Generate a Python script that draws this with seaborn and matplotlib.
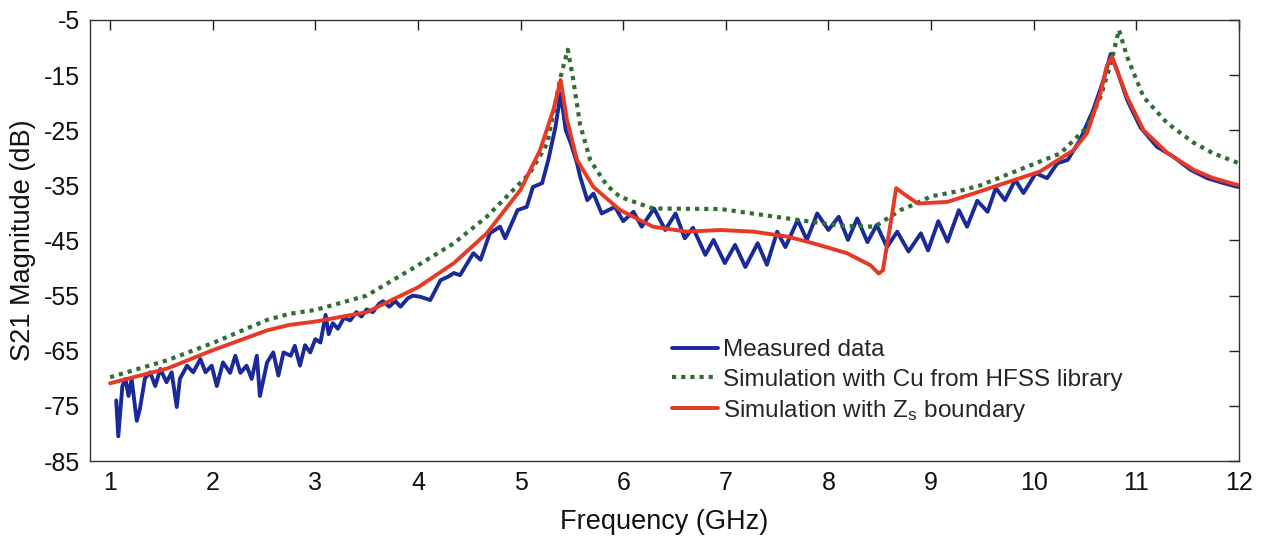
import numpy as np
import pandas as pd
import matplotlib
matplotlib.use("Agg")
import matplotlib.pyplot as plt
import seaborn as sns

# Measured data (blue)
meas_f = [1.06, 1.08, 1.12, 1.15, 1.18, 1.21, 1.26, 1.29, 1.34, 1.39, 1.44, 1.49, 1.55, 1.60,
          1.65, 1.68, 1.75, 1.81, 1.88, 1.93, 1.99, 2.04, 2.10, 2.17, 2.22, 2.27, 2.33, 2.38,
          2.43, 2.46, 2.53, 2.59, 2.64, 2.69, 2.76, 2.80, 2.85, 2.90, 2.95, 3.00, 3.05, 3.10,
          3.13, 3.17, 3.22, 3.28, 3.34, 3.40, 3.45, 3.50, 3.56, 3.62, 3.66, 3.72, 3.78, 3.83,
          3.90, 3.95, 4.02, 4.12, 4.22, 4.30, 4.35, 4.41, 4.54, 4.61, 4.70, 4.80, 4.85, 4.97,
          5.06, 5.12, 5.21, 5.27, 5.34, 5.39, 5.44, 5.49, 5.55, 5.58, 5.65, 5.71, 5.79, 5.92,
          6.00, 6.10, 6.18, 6.30, 6.41, 6.51, 6.60, 6.68, 6.80, 6.88, 6.99, 7.09, 7.19, 7.31,
          7.40, 7.50, 7.58, 7.70, 7.79, 7.89, 8.00, 8.10, 8.19, 8.28, 8.38, 8.47, 8.57, 8.67,
          8.78, 8.90, 8.97, 9.07, 9.16, 9.27, 9.35, 9.45, 9.55, 9.63, 9.72, 9.82, 9.90, 10.02,
          10.13, 10.23, 10.33, 10.45, 10.58, 10.68, 10.75, 10.81, 10.91, 11.04, 11.20, 11.36,
          11.53, 11.69, 11.85, 11.99]
meas_db = [-74.0, -80.5, -71.4, -70.1, -73.2, -70.1, -77.7, -75.6, -70.0, -68.9, -71.4, -68.3,
           -70.7, -68.9, -75.2, -70.1, -67.7, -68.9, -66.5, -68.9, -67.7, -71.4, -67.1, -69.0,
           -65.9, -69.0, -67.7, -70.1, -65.9, -73.2, -67.1, -65.3, -69.5, -65.3, -65.9, -64.1,
           -67.7, -64.0, -65.3, -62.9, -63.5, -58.5, -62.0, -60.0, -61.0, -59.0, -59.5, -58.0,
           -58.8, -57.5, -58.0, -56.5, -56.0, -57.0, -56.0, -57.0, -55.5, -55.0, -55.2, -55.8,
           -52.2, -51.5, -50.9, -51.3, -47.3, -48.5, -43.7, -42.5, -44.6, -39.5, -38.9, -35.3,
           -34.6, -30.4, -24.4, -18.3, -25.0, -27.4, -31.0, -33.4, -37.7, -36.5, -40.1, -38.9,
           -41.5, -39.8, -42.5, -39.2, -43.1, -40.1, -44.6, -42.7, -47.6, -44.9, -49.1, -45.8,
           -49.8, -45.5, -49.4, -43.4, -46.2, -41.3, -44.9, -40.1, -43.1, -40.7, -44.9, -41.0,
           -45.3, -42.2, -46.2, -43.4, -47.0, -43.7, -46.8, -41.5, -45.2, -39.5, -42.5, -37.8,
           -39.8, -35.5, -37.7, -34.0, -36.4, -32.8, -33.7, -31.0, -30.4, -26.8, -21.3, -15.9,
           -11.2, -14.0, -19.5, -24.5, -28.0, -29.8, -32.2, -33.7, -34.6, -35.3]

# Simulation with Cu from HFSS library (green dotted)
cu_f = [1.0, 1.56, 2.0, 2.53, 2.75, 3.0, 3.5, 4.0, 4.35, 4.67, 5.09, 5.26, 5.39, 5.46, 5.51,
        5.58, 5.68, 5.84, 5.97, 6.29, 6.95, 7.6, 8.1, 8.45, 8.7, 8.83, 9.0, 9.28, 9.48, 10.26,
        10.52, 10.65, 10.75, 10.83, 10.91, 11.07, 11.3, 11.56, 11.75, 12.0]
cu_db = [-69.8, -66.7, -63.6, -59.4, -58.3, -57.6, -55.0, -49.5, -45.5, -40.7, -32.8, -27.4,
         -15.3, -10.4, -15.5, -24.0, -30.5, -35.0, -37.1, -39.2, -39.3, -41.0, -42.3, -42.5,
         -39.5, -38.5, -37.0, -36.0, -35.0, -29.2, -24.4, -19.0, -13.0, -6.8, -11.7, -19.0,
         -23.7, -27.3, -29.2, -31.0]

# Simulation with Zs boundary (red)
zs_f = [1.0, 1.56, 2.0, 2.53, 2.75, 3.0, 3.5, 4.0, 4.35, 4.67, 5.0, 5.19, 5.32, 5.39, 5.45,
        5.55, 5.71, 5.97, 6.29, 6.62, 6.95, 7.27, 7.6, 7.85, 8.18, 8.41, 8.49, 8.53, 8.6,
        8.66, 8.73, 8.87, 9.16, 9.41, 10.06, 10.39, 10.52, 10.65, 10.71, 10.76, 10.91, 11.07,
        11.3, 11.56, 11.75, 12.0]
zs_db = [-70.9, -68.2, -64.9, -61.3, -60.3, -59.7, -58.0, -53.5, -49.1, -43.7, -35.8, -28.6,
         -21.3, -15.9, -23.0, -30.4, -35.3, -39.5, -42.5, -43.4, -43.1, -43.4, -44.3, -45.5,
         -47.3, -49.5, -51.0, -50.4, -42.5, -35.5, -36.5, -38.3, -38.0, -36.5, -32.5, -28.6,
         -25.5, -18.3, -13.5, -11.7, -19.0, -25.0, -29.1, -32.2, -33.7, -35.0]

labels = ["Measured data", "Simulation with Cu from HFSS library",
          r"Simulation with Z$_\mathregular{s}$ boundary"]
y_ticks = [-85, -75, -65, -55, -45, -35, -25, -15, -5]
x_ticks = list(range(1, 13))

sns.set_style("white")
plt.rcParams["font.family"] = ["Liberation Sans", "DejaVu Sans"]
plt.rcParams["mathtext.fontset"] = "custom"
plt.rcParams["mathtext.rm"] = "Liberation Sans"
plt.rcParams["mathtext.it"] = "Liberation Sans"
plt.rcParams["axes.unicode_minus"] = False

fig = plt.figure(figsize=(12.63, 5.38), dpi=100)
ax = fig.add_axes([0.0713, 0.143, 0.9097, 0.820])

df_m = pd.DataFrame({"f": meas_f, "db": meas_db})
df_c = pd.DataFrame({"f": cu_f, "db": cu_db})
df_z = pd.DataFrame({"f": zs_f, "db": zs_db})

sns.lineplot(data=df_m, x="f", y="db", ax=ax, color="#1a2a98", lw=2.8, label=labels[0],
             estimator=None, sort=False)
sns.lineplot(data=df_c, x="f", y="db", ax=ax, color="#2f6e34", lw=3.0, label=labels[1],
             estimator=None, sort=False, linestyle=(0, (1, 1.2)))
sns.lineplot(data=df_z, x="f", y="db", ax=ax, color="#e63a26", lw=2.8, label=labels[2],
             estimator=None, sort=False)

ax.set_xlim(0.805, 12)
ax.set_ylim(-85, -5)
ax.set_xticks(x_ticks)
ax.set_yticks(y_ticks)
ax.tick_params(direction="in", length=7, width=1, top=True, right=True,
               labelsize=18, pad=7, colors="#222222")
ax.tick_params(axis="both", labelcolor="#111111")
for s in ax.spines.values():
    s.set_linewidth(1.0)
    s.set_color("#333333")
ax.set_xlabel("Frequency (GHz)", fontsize=19.5, labelpad=10, color="#111111")
ax.set_ylabel("S21 Magnitude (dB)", fontsize=19.5, labelpad=6, color="#111111")

leg = ax.legend(loc="upper left", bbox_to_anchor=(0.498, 0.298), frameon=False,
                fontsize=17.5, handlelength=1.9, handletextpad=0.2, labelspacing=0.3,
                borderaxespad=0)

fig.savefig("out.png", dpi=100)
